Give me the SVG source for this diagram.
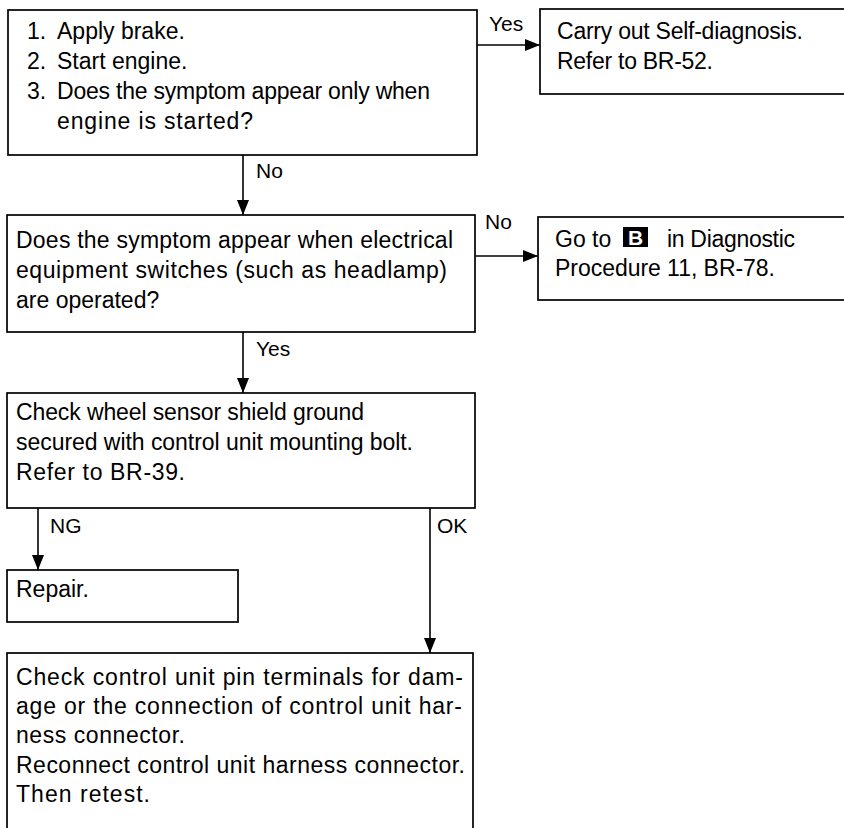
<svg xmlns="http://www.w3.org/2000/svg" width="844" height="828" viewBox="0 0 844 828">
<defs>
<style>
.box{fill:#fff;stroke:#000;stroke-width:1.7}
.t{font-family:"Liberation Sans",Arial,Helvetica,sans-serif;font-size:23px;fill:#000}
.lbl{font-family:"Liberation Sans",Arial,Helvetica,sans-serif;font-size:21px;fill:#000}
.c{fill:none;stroke:#000;stroke-width:1.6}
</style>
<marker id="arr" markerUnits="userSpaceOnUse" markerWidth="16" markerHeight="13" refX="15" refY="6" orient="auto">
<path d="M0,0 L15,6 L0,12 z" fill="#000"/>
</marker>
</defs>
<rect x="0" y="0" width="844" height="828" fill="#fff"/>

<g id="n1">
<rect class="box" x="8" y="10" width="469" height="145"/>
<text class="t" x="27" y="39">1.</text><text class="t" x="57" y="39">Apply brake.</text>
<text class="t" x="27" y="69">2.</text><text class="t" x="57" y="69">Start engine.</text>
<text class="t" x="27" y="99">3.</text><text class="t" x="57" y="99" textLength="373">Does the symptom appear only when</text>
<text class="t" x="57" y="129" textLength="196">engine is started?</text>
</g>

<g id="n2">
<rect class="box" x="540" y="9" width="330" height="85"/>
<text class="t" x="557" y="39" textLength="246">Carry out Self-diagnosis.</text>
<text class="t" x="557" y="69" textLength="156">Refer to BR-52.</text>
</g>

<g id="n3">
<rect class="box" x="7" y="215" width="468" height="117"/>
<text class="t" x="16" y="248" textLength="437">Does the symptom appear when electrical</text>
<text class="t" x="16" y="278" textLength="431">equipment switches (such as headlamp)</text>
<text class="t" x="16" y="308">are operated?</text>
</g>

<g id="n4">
<rect class="box" x="538" y="217" width="330" height="83"/>
<text class="t" x="555" y="247">Go to</text>
<rect x="623" y="227" width="25" height="20" fill="#000"/>
<text x="635.5" y="245" text-anchor="middle" font-family="Liberation Sans,Arial,sans-serif" font-size="21" font-weight="bold" fill="#fff">B</text>
<text class="t" x="667" y="247" textLength="128">in Diagnostic</text>
<text class="t" x="555" y="276" textLength="220">Procedure 11, BR-78.</text>
</g>

<g id="n5">
<rect class="box" x="7" y="393" width="468" height="115"/>
<text class="t" x="16" y="420" textLength="348">Check wheel sensor shield ground</text>
<text class="t" x="16" y="450" textLength="397">secured with control unit mounting bolt.</text>
<text class="t" x="16" y="480" textLength="169">Refer to BR-39.</text>
</g>

<g id="n6">
<rect class="box" x="7" y="570" width="231" height="52"/>
<text class="t" x="16" y="597">Repair.</text>
</g>

<g id="n7">
<rect class="box" x="7" y="653" width="466" height="200"/>
<text class="t" x="16" y="685" textLength="447">Check control unit pin terminals for dam-</text>
<text class="t" x="16" y="714" textLength="446">age or the connection of control unit har-</text>
<text class="t" x="16" y="743" textLength="169">ness connector.</text>
<text class="t" x="16" y="773" textLength="449">Reconnect control unit harness connector.</text>
<text class="t" x="16" y="802" textLength="134">Then retest.</text>
</g>

<g id="connectors">
<path class="c" d="M477 45 H540" marker-end="url(#arr)"/>
<text class="lbl" x="489" y="31">Yes</text>
<path class="c" d="M243 155 V215" marker-end="url(#arr)"/>
<text class="lbl" x="256" y="178">No</text>
<path class="c" d="M475 256 H538" marker-end="url(#arr)"/>
<text class="lbl" x="485" y="229">No</text>
<path class="c" d="M243 332 V393" marker-end="url(#arr)"/>
<text class="lbl" x="256" y="356">Yes</text>
<path class="c" d="M38 508 V570" marker-end="url(#arr)"/>
<text class="lbl" x="50" y="533">NG</text>
<path class="c" d="M430 508 V653" marker-end="url(#arr)"/>
<text class="lbl" x="437" y="533">OK</text>
</g>
</svg>
